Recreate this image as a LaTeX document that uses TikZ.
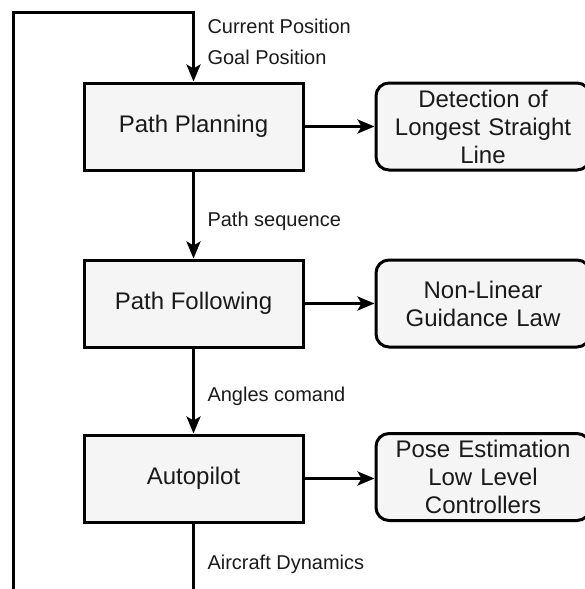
\documentclass[tikz,border=0pt]{standalone}
\usepackage{fontspec}
\setmainfont{Liberation Sans}
\usetikzlibrary{arrows.meta}
\definecolor{boxfill}{HTML}{F5F5F5}
\definecolor{ink}{HTML}{000000}
\definecolor{txt}{HTML}{1A1A1A}
\begin{document}
\begin{tikzpicture}[x=1pt,y=-1pt,
  line width=3pt,
  blockbox/.style={draw=ink,fill=boxfill,minimum width=219pt,minimum height=87pt,inner sep=0pt,
    text=txt,font=\fontsize{24}{28}\selectfont},
  roundbox/.style={draw=ink,fill=boxfill,rounded corners=13pt,minimum width=214pt,minimum height=87pt,
    inner sep=0pt,text=txt,align=center,font=\fontsize{24}{28}\selectfont},
  lbl/.style={anchor=base west,inner sep=0pt,text=txt,font=\fontsize{20}{24}\selectfont},
  arr/.style={-{Stealth[length=17pt,width=14pt,inset=4pt]}},
]
\useasboundingbox (0,0) rectangle (585,589);
\begin{scope}
\clip (0,0) rectangle (585,589);
\node[blockbox] (pp) at (193.5,126.5) {Path Planning};
\node[blockbox] (pf) at (193.5,303.5) {Path Following};
\node[blockbox] (ap) at (193.5,478.5) {Autopilot};
\node[roundbox,text width=210pt] (det) at (483,126.5) {Detection of\\Longest Straight\\Line};
\node[roundbox,text width=210pt] (nlg) at (483,303.5) {Non-Linear\\Guidance Law};
\node[roundbox,text width=210pt] (pose) at (483,477) {Pose Estimation\\Low Level\\Controllers};

\coordinate (bl) at (13.5,600);
\coordinate (tl) at (13.5,12.5);
\coordinate (tr) at (193.5,12.5);
\coordinate (bot) at (193.5,600);

\draw[arr] (bl) -- (tl) -- (tr) -- (pp.north);
\draw[arr] (pp.south) -- (pf.north);
\draw[arr] (pf.south) -- (ap.north);
\draw (ap.south) -- (bot);
\draw[arr] (pp.east) -- (det.west);
\draw[arr] (pf.east) -- (nlg.west);
\draw[arr] (ap.east) -- (ap.east -| pose.west);

\node[lbl] (l1) at (206,34) {Current Position};
\node[lbl] (l2) at (206,64) {Goal Position};
\node[lbl] (l3) at (206,226) {Path sequence};
\node[lbl] (l4) at (206,401) {Angles comand};
\node[lbl] (l5) at (206,569) {Aircraft Dynamics};
\end{scope}
\end{tikzpicture}
\end{document}
